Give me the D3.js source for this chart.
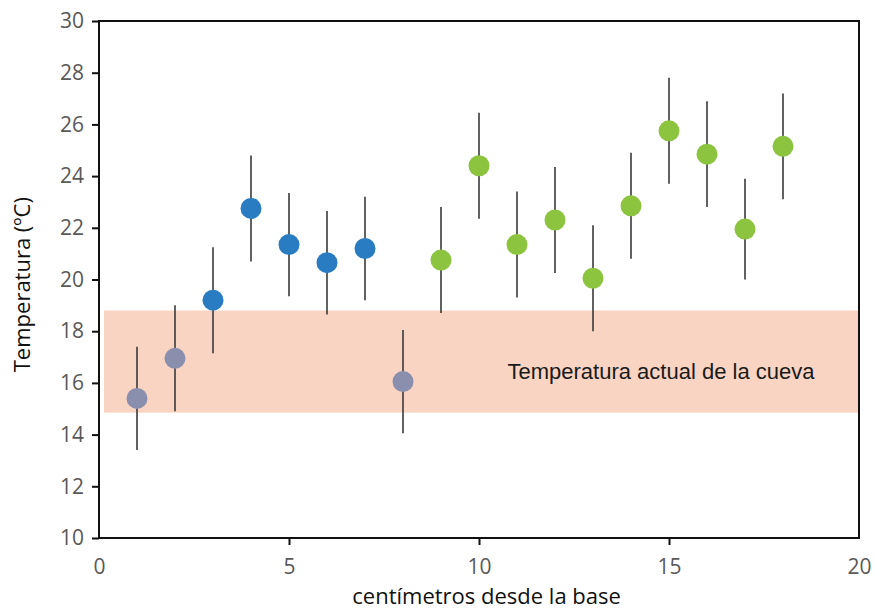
<!DOCTYPE html>
<html>
<head>
<meta charset="utf-8">
<script src="https://cdn.jsdelivr.net/npm/d3@7"></script>
<style>
  html, body { margin: 0; padding: 0; background: #fff; }
  svg { display: block; }
</style>
</head>
<body>
<div id="chart"></div>
<script>
  // ---- Data --------------------------------------------------------------
  var positions = [1, 2, 3, 4, 5, 6, 7, 8, 9, 10, 11, 12, 13, 14, 15, 16, 17, 18];
  var temps     = [15.4, 16.95, 19.2, 22.75, 21.35, 20.65, 21.2, 16.05, 20.75,
                   24.4, 21.35, 22.3, 20.05, 22.85, 25.75, 24.85, 21.95, 25.15];
  var errors    = [2.0, 2.05, 2.05, 2.05, 2.0, 2.0, 2.0, 2.0, 2.05,
                   2.05, 2.05, 2.05, 2.05, 2.05, 2.05, 2.05, 1.95, 2.05];
  var groups    = ['gris', 'gris', 'azul', 'azul', 'azul', 'azul', 'azul', 'gris', 'verde',
                   'verde', 'verde', 'verde', 'verde', 'verde', 'verde', 'verde', 'verde', 'verde'];
  var caveRange = [14.85, 18.8];
  var xTicks    = [0, 5, 10, 15, 20];
  var yTicks    = [10, 12, 14, 16, 18, 20, 22, 24, 26, 28, 30];

  var COLORS = { gris: '#8b8fae', azul: '#2a7cc2', verde: '#8cc43f' };

  // ---- Layout ------------------------------------------------------------
  var W = 876, H = 612;
  var m = { top: 21, right: 17, bottom: 74, left: 99 };
  var iw = W - m.left - m.right, ih = H - m.top - m.bottom;
  var FONT = '"Open Sans", sans-serif';

  var svg = d3.select('#chart').append('svg')
    .attr('width', W).attr('height', H);

  var x = d3.scaleLinear().domain([0, 20]).range([0, iw]);
  var y = d3.scaleLinear().domain([10, 30]).range([ih, 0]);

  var g = svg.append('g').attr('transform', 'translate(' + m.left + ',' + m.top + ')');

  // cave temperature band
  g.append('rect')
    .attr('x', 5).attr('width', iw - 6)
    .attr('y', y(caveRange[1]))
    .attr('height', y(caveRange[0]) - y(caveRange[1]))
    .attr('fill', '#f9d4c2');

  g.append('text')
    .attr('x', x(10.75)).attr('y', y(16.45))
    .attr('dy', '0.35em')
    .attr('font-family', '"Liberation Sans", Arial, sans-serif')
    .attr('font-size', 22)
    .attr('fill', '#1a1a1a')
    .text('Temperatura actual de la cueva');

  // frame
  g.append('rect')
    .attr('width', iw).attr('height', ih)
    .attr('fill', 'none').attr('stroke', '#111').attr('stroke-width', 2);

  // axes
  var xAxis = g.append('g').attr('transform', 'translate(0,' + ih + ')')
    .call(d3.axisBottom(x).tickValues(xTicks).tickSize(7).tickPadding(14));
  var yAxis = g.append('g')
    .call(d3.axisLeft(y).tickValues(yTicks).tickSize(7).tickPadding(8));

  [xAxis, yAxis].forEach(function(a) {
    a.select('.domain').remove();
    a.selectAll('line').attr('stroke', '#111').attr('stroke-width', 2);
    a.selectAll('text')
      .attr('font-family', FONT)
      .attr('font-size', 21)
      .attr('fill', '#595959');
  });
  xAxis.selectAll('.tick').filter(function(d) { return d === 0 || d === 20; })
    .select('line').remove();

  // error bars
  var pts = positions.map(function(p, i) {
    return { x: p, t: temps[i], e: errors[i], grp: groups[i] };
  });

  g.selectAll('.err').data(pts).enter().append('line')
    .attr('class', 'err')
    .attr('x1', function(d) { return x(d.x); })
    .attr('x2', function(d) { return x(d.x); })
    .attr('y1', function(d) { return y(d.t + d.e); })
    .attr('y2', function(d) { return y(d.t - d.e); })
    .attr('stroke', '#3a3a3a').attr('stroke-width', 1.6);

  g.selectAll('.pt').data(pts).enter().append('circle')
    .attr('class', 'pt')
    .attr('cx', function(d) { return x(d.x); })
    .attr('cy', function(d) { return y(d.t); })
    .attr('r', 10.5)
    .attr('fill', function(d) { return COLORS[d.grp]; });

  // axis titles
  svg.append('text')
    .attr('x', m.left + x(10.2)).attr('y', 604)
    .attr('text-anchor', 'middle')
    .attr('font-family', FONT)
    .attr('font-size', 22)
    .attr('fill', '#111')
    .text('centímetros desde la base');

  svg.append('text')
    .attr('transform', 'translate(30,' + (m.top + y(19.8)) + ') rotate(-90)')
    .attr('text-anchor', 'middle')
    .attr('font-family', FONT)
    .attr('font-size', 22)
    .attr('fill', '#111')
    .text('Temperatura (ºC)');
</script>
</body>
</html>
